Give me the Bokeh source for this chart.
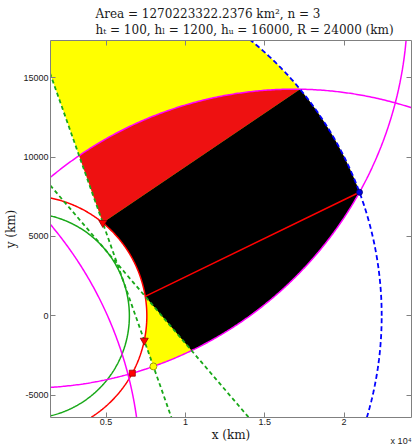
import numpy as np
from bokeh.plotting import figure
from bokeh.models import Range1d, LinearAxis, FixedTicker, Title
from bokeh.embed import file_html
from bokeh.resources import INLINE

# ---------------- data (km) ----------------
R_E = 6371.0
h_t = 100.0
h_l = 1200.0
h_u = 16000.0
R_range = 24000.0
n_sat = 3
area_km2 = "1270223322.2376"
r_sat = 19450.0                      # orbit radius of the relay satellites
sat_angles_deg = [90.0, -30.0, 210.0]

x_ticks = [5000, 10000, 15000, 20000]
x_tick_labels = ["0.5", "1", "1.5", "2"]
y_ticks = [-5000, 0, 5000, 10000, 15000]
y_tick_labels = ["-5000", "0", "5000", "10000", "15000"]
x_limits = [1500, 24250]
y_limits = [-6400, 17340]

# ---------------- geometry ----------------
r_t = R_E + h_t
r_l = R_E + h_l
r_u = R_E + h_u
O = np.zeros(2)
sats = [r_sat * np.array([np.cos(np.radians(a)), np.sin(np.radians(a))]) for a in sat_angles_deg]
S2, S1, S3 = sats


def unit(a):
    return np.array([np.cos(a), np.sin(a)])


def tangent(S, sign):
    phi = np.arctan2(S[1], S[0]) + sign * np.arccos(r_t / np.linalg.norm(S))
    n = unit(phi)
    return n, np.array([-n[1], n[0]])


def line_circle(n, d, C, rho):
    q = r_t * n - C
    b = q @ d
    c = q @ q - rho ** 2
    disc = np.sqrt(b * b - c)
    return [r_t * n + t * d for t in (-b - disc, -b + disc)]


def circ_circ(C1, r1, C2, r2):
    dv = C2 - C1
    dist = np.linalg.norm(dv)
    a = (r1 ** 2 - r2 ** 2 + dist ** 2) / (2 * dist)
    h = np.sqrt(r1 ** 2 - a ** 2)
    base = C1 + a * dv / dist
    perp = np.array([-dv[1], dv[0]]) / dist
    return base + h * perp, base - h * perp


def ang(P, C=O):
    return np.arctan2(P[1] - C[1], P[0] - C[0])


def arc(C, rho, a0, a1, num=240):
    t = np.linspace(a0, a1, num)
    return list(C[0] + rho * np.cos(t)), list(C[1] + rho * np.sin(t))


n1, d1 = tangent(S2, -1)
n2, d2 = tangent(S1, +1)
P_B, P_A = line_circle(n1, d1, O, r_l)
P_C = line_circle(n2, d2, O, r_l)[0]
P_D = line_circle(n2, d2, S2, R_range)[0]
P_E = line_circle(n1, d1, S2, R_range)[0]
P_H = line_circle(n1, d1, S1, R_range)[1]
P_top = line_circle(n1, d1, O, r_u)[1]
P_F = max(circ_circ(O, r_u, S2, R_range), key=lambda P: P[0])
P_G = max(circ_circ(O, r_u, S1, R_range), key=lambda P: P[1])
P_sq = max(circ_circ(O, r_l, S2, R_range), key=lambda P: P[0])


def join(*parts):
    xs, ys = [], []
    for px, py in parts:
        xs += list(px)
        ys += list(py)
    return xs, ys


yel = join(arc(S2, R_range, ang(P_E, S2), ang(P_F, S2)),
           arc(O, r_u, ang(P_F), ang(P_top)),
           arc(O, r_l, ang(P_A), ang(P_B)))
red = join(arc(S1, R_range, ang(P_H, S1), ang(P_G, S1)), ([P_A[0]], [P_A[1]]))
blk = join(arc(O, r_l, ang(P_A), ang(P_C)), ([P_D[0]], [P_D[1]]),
           arc(S2, R_range, ang(P_D, S2), ang(P_F, S2)),
           arc(O, r_u, ang(P_F), ang(P_G)))

# ---------------- figure ----------------
p = figure(width=412, height=444, x_range=Range1d(*x_limits), y_range=Range1d(*y_limits),
           output_backend="svg", toolbar_location=None,
           min_border_left=50, min_border_right=1, min_border_top=40, min_border_bottom=26)
p.grid.visible = False
p.outline_line_color = None
p.background_fill_color = "white"

p.patch(*yel, fill_color="#FFFF00", line_color=None)
p.patch(*red, fill_color="#EE1111", line_color=None)
p.patch(*blk, fill_color="#000000", line_color=None)

full = (0, 2 * np.pi)
GREEN = "#18A818"
p.line(*arc(O, r_t, *full, num=721), line_color=GREEN, line_width=1.5)
p.line(*arc(O, r_l, *full, num=721), line_color="#FF0000", line_width=1.5)
for S in sats:
    p.line(*arc(S, R_range, *full, num=1441), line_color="#FF00FF", line_width=1.5)
p.line(*arc(O, r_u, *full, num=1441), line_color="#0000FF", line_width=1.8, line_dash="5 3")

g1a, g1b = S2, r_t * n1 - 16000 * d1
g2a, g2b = S1, r_t * n2 + 12000 * d2
p.line([g1a[0], g1b[0]], [g1a[1], g1b[1]], line_color=GREEN, line_width=1.8, line_dash="4 3")
p.line([g2a[0], g2b[0]], [g2a[1], g2b[1]], line_color=GREEN, line_width=1.8, line_dash="4 3")
p.line([P_C[0], P_F[0]], [P_C[1], P_F[1]], line_color="#FF0000", line_width=1.5)

p.scatter([P_A[0], P_B[0]], [P_A[1], P_B[1]], marker="inverted_triangle", size=8,
          fill_color="#FF0000", line_color="#990000", line_width=0.8)
p.scatter([P_sq[0]], [P_sq[1]], marker="square", size=6, fill_color="#FF0000",
          line_color="#990000", line_width=0.8)
p.scatter([P_E[0]], [P_E[1]], marker="circle", size=7, fill_color="#FFFF00",
          line_color="#888800", line_width=0.8)
p.scatter([P_F[0]], [P_F[1]], marker="circle", size=6, fill_color="#0000DD",
          line_color="#000066", line_width=0.8)

# ---------------- axes ----------------
AX = "#808080"
TICKFONT = "Liberation Sans"


def style_axis(ax, labels_on):
    ax.axis_line_color = AX
    ax.major_tick_line_color = AX
    ax.minor_tick_line_color = None
    ax.major_tick_in = 5
    ax.major_tick_out = 0
    ax.major_label_text_font = TICKFONT
    ax.major_label_text_font_size = "9px"
    ax.major_label_text_color = "#1a1a1a"
    ax.major_label_standoff = 1 if labels_on else 0


p.xaxis.ticker = FixedTicker(ticks=x_ticks)
p.yaxis.ticker = FixedTicker(ticks=y_ticks)
p.xaxis.major_label_overrides = {t: s for t, s in zip(x_ticks, x_tick_labels)}
p.yaxis.major_label_overrides = {t: s for t, s in zip(y_ticks, y_tick_labels)}
style_axis(p.xaxis[0], True)
style_axis(p.yaxis[0], True)
p.yaxis.major_label_standoff = 2
for ax in (p.xaxis[0], p.yaxis[0]):
    ax.axis_label_text_font = "DejaVu Serif"
    ax.axis_label_text_font_size = "12px"
    ax.axis_label_text_font_style = "normal"
    ax.axis_label_text_color = "#1a1a1a"
    ax.axis_label_standoff = 0
p.yaxis.axis_label_standoff = 2
p.xaxis.axis_label = "x (km)"
p.yaxis.axis_label = "y (km)"

top_ax = LinearAxis(ticker=FixedTicker(ticks=x_ticks),
                    major_label_overrides={t: "" for t in x_ticks})
right_ax = LinearAxis(ticker=FixedTicker(ticks=y_ticks),
                      major_label_overrides={t: "" for t in y_ticks})
style_axis(top_ax, False)
style_axis(right_ax, False)
p.add_layout(top_ax, "above")
p.add_layout(right_ax, "right")

TFONT = "DejaVu Serif"
p.add_layout(Title(text="h\u209c = 100, h\u2097 = 1200, h\u1d64 = 16000, R = 24000 (km)",
                   align="left", offset=45, text_font=TFONT, text_font_size="12px",
                   text_font_style="normal", text_color="#1a1a1a", standoff=7), "above")
p.add_layout(Title(text="Area = " + area_km2 + " km\u00b2, n = " + str(n_sat),
                   align="left", offset=45, text_font=TFONT, text_font_size="12px",
                   text_font_style="normal", text_color="#1a1a1a", standoff=-6), "above")

# axis multiplier, placed in the bottom panel next to "x (km)"
p.add_layout(Title(text="x 10\u2074", align="right", vertical_align="top", offset=0,
                   text_font=TICKFONT, text_font_size="9px", text_font_style="normal",
                   text_color="#1a1a1a", standoff=-18), "below")

open("out.html", "w").write(file_html(p, INLINE))
